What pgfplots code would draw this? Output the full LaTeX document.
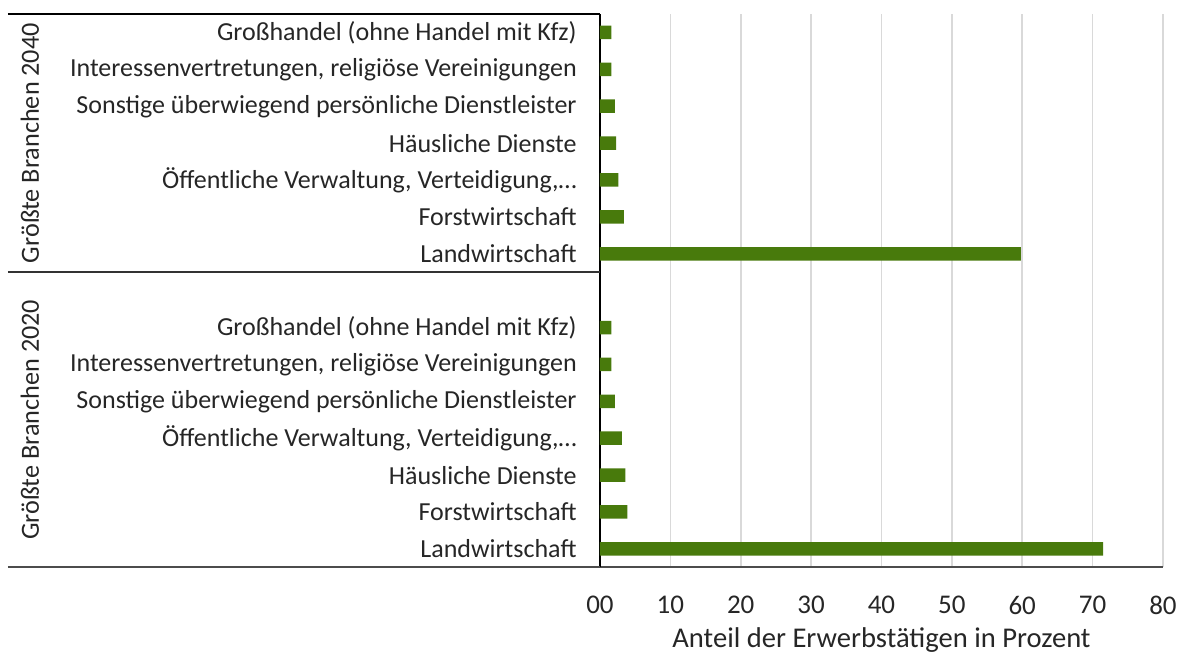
\documentclass[border=0pt]{standalone}
\usepackage{pgfplots}
\pgfplotsset{compat=1.18}
\usepackage{fontspec}
\setmainfont{Carlito}
\definecolor{bargreen}{RGB}{72,122,12}
\definecolor{gridgray}{RGB}{217,217,217}
\begin{document}
\fontsize{13}{15}\selectfont
\begin{tikzpicture}
\useasboundingbox (-300pt,-43.85pt) rectangle (291pt,283.65pt);
\begin{axis}[
  at={(0,0)}, anchor=south west,
  scale only axis,
  width=281.5pt, height=276.65pt,
  xmin=0, xmax=80,
  ymin=-0.5, ymax=14.5,
  xtick={0,10,...,80},
  xticklabels={00,10,20,30,40,50,60,70,80},
  ytick={0,1,2,3,4,5,6,8,9,10,11,12,13,14},
  yticklabels={Landwirtschaft,Forstwirtschaft,Häusliche Dienste,{Öffentliche Verwaltung, Verteidigung,…},Sonstige überwiegend persönliche Dienstleister,{Interessenvertretungen, religiöse Vereinigungen},Großhandel (ohne Handel mit Kfz),Landwirtschaft,Forstwirtschaft,{Öffentliche Verwaltung, Verteidigung,…},Häusliche Dienste,Sonstige überwiegend persönliche Dienstleister,{Interessenvertretungen, religiöse Vereinigungen},Großhandel (ohne Handel mit Kfz)},
  /pgf/number format/assume math mode=true,
  major tick length=0pt,
  xmajorgrids, grid style={gridgray, line width=0.8pt},
  axis x line*=bottom, axis y line*=left,
  axis line style={black, line width=0.7pt},
  x axis line style={-, draw=black!70, line width=1pt},
  y axis line style={-},
  yticklabel style={anchor=east, inner sep=0pt, xshift=-11.5pt, text=black!85, font=\fontsize{13}{15}\selectfont},
  xticklabel style={anchor=center, inner sep=0pt, yshift=-19pt, text=black!85, font=\fontsize{13.5}{15}\selectfont},
  xlabel={Anteil der Erwerbstätigen in Prozent},
  xlabel style={anchor=center, at={(0.5,0)}, yshift=-36.5pt, inner sep=0pt, text=black!85, font=\fontsize{14.3}{16}\selectfont},
  clip=false,
]
\addplot[xbar, bar width=6.75pt, fill=bargreen, draw=none] coordinates {
  (71.5,0) (3.9,1) (3.6,2) (3.1,3) (2.1,4) (1.6,5) (1.6,6)
  (59.8,8) (3.4,9) (2.6,10) (2.3,11) (2.1,12) (1.6,13) (1.6,14)
};
\draw[black, line width=0.8pt] ([xshift=-296pt]axis cs:0,14.5) -- (axis cs:0,14.5);
\draw[black!80, line width=0.8pt] ([xshift=-296pt]axis cs:0,7.5) -- (axis cs:0,7.5);
\draw[black!70, line width=1pt] ([xshift=-296pt]axis cs:0,-0.5) -- (axis cs:0,-0.5);
\node[rotate=90, anchor=center, inner sep=0pt, text=black!85, font=\fontsize{13.1}{15}\selectfont] at ([xshift=-285pt]axis cs:0,11) {Größte Branchen 2040};
\node[rotate=90, anchor=center, inner sep=0pt, text=black!85, font=\fontsize{13.1}{15}\selectfont] at ([xshift=-285pt]axis cs:0,3.5) {Größte Branchen 2020};
\end{axis}
\end{tikzpicture}
\end{document}
